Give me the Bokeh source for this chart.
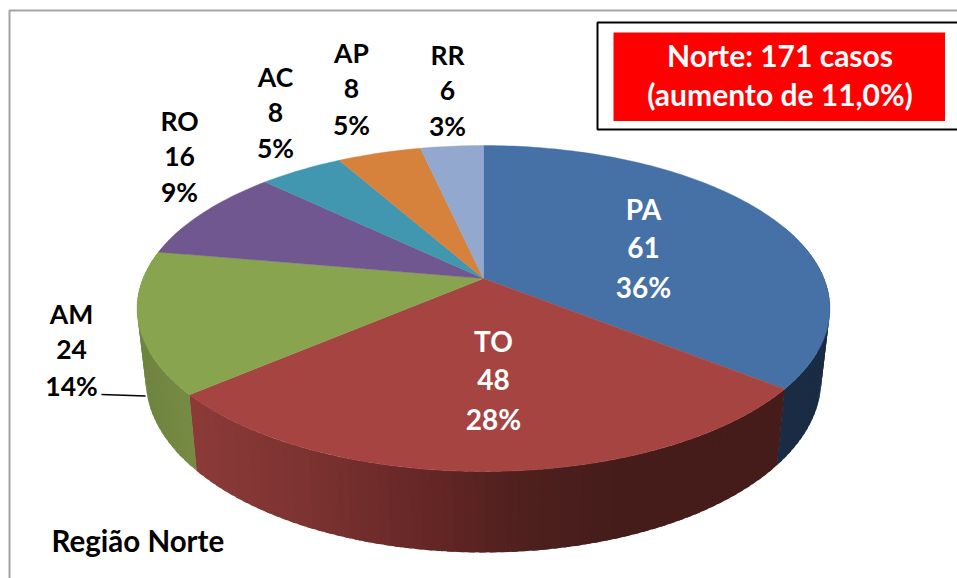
import math
from bokeh.plotting import figure
from bokeh.models import Range1d, ColumnDataSource
from bokeh.core.properties import value
from bokeh.embed import file_html
from bokeh.resources import INLINE

# ---- data -------------------------------------------------------------
states = ["PA", "TO", "AM", "RO", "AC", "AP", "RR"]
cases = [61, 48, 24, 16, 8, 8, 6]
pct_labels = ["36%", "28%", "14%", "9%", "5%", "5%", "3%"]
top_colors = ["#4671A6", "#A64442", "#89A44E", "#71578F", "#4197AF", "#D6823C", "#93A8CF"]
box_lines = ["Norte: 171 casos", "(aumento de 11,0%)"]
region_title = "Região Norte"

# ---- layout (reference pixels) ------------------------------------------
W, H = 957, 578
APEX_X, APEX_Y = 484.0, 279.0
A, B, K = 340.5, 157.5, 0.184      # perspective disc
SX, SY, Y0 = 0.975, 1.06, 348.4    # lower rim of the disc

LABEL_POS = {  # state: (x, first line y, second, third)
    "PA": (644, 209, 248, 287),
    "TO": (494, 341, 380, 419),
    "AM": (72, 314, 350, 386),
    "RO": (180, 121, 157, 192),
    "AC": (276, 77, 113, 148),
    "AP": (352, 53, 89, 125),
    "RR": (448, 55, 91, 126),
}
WHITE_LABELS = {"PA", "TO"}


def rim(theta):
    """Clockwise angle from 12 o'clock -> top-face rim pixel."""
    u, v = math.sin(theta), math.cos(theta)
    d = 1 + K * v
    return APEX_X + A * u / d, APEX_Y - B * v / d


def low(x, y):
    return APEX_X + SX * (x - APEX_X), Y0 + SY * (y - APEX_Y)


def lerp_stops(stops, t):
    for (t0, c0), (t1, c1) in zip(stops, stops[1:]):
        if t <= t1:
            f = 0 if t1 == t0 else (t - t0) / (t1 - t0)
            return "#%02x%02x%02x" % tuple(round(a + (b - a) * f) for a, b in zip(c0, c1))
    return "#%02x%02x%02x" % stops[-1][1]


# side shading, by rim x position
SIDE_STOPS = {
    "PA": [(0, (25, 44, 68)), (1000, (25, 44, 68))],
    "TO": [(180, (141, 59, 57)), (300, (124, 51, 49)), (440, (98, 37, 36)),
           (520, (78, 32, 30)), (620, (69, 28, 26)), (800, (69, 28, 26))],
    "AM": [(130, (108, 131, 62)), (200, (121, 140, 68))],
}

p = figure(width=W, height=H, output_backend="svg", toolbar_location=None,
           x_range=Range1d(1, W + 1), y_range=Range1d(H + 1, 1), min_border=0,
           background_fill_color="white", border_fill_color="white")
p.axis.visible = False
p.grid.visible = False
p.outline_line_color = None

# frame of the slide
p.line([10, 10, W + 5], [H + 5, 11, 11], line_color="#A3A3A3", line_width=2)

# wedge boundaries from the values
total = sum(cases)
angles = [0.0]
for c in cases:
    angles.append(angles[-1] + 2 * math.pi * c / total)

# side walls: overlapping strips, painted in order so no seams show
xs, ys, cols = [], [], []
walls = {"PA": (math.radians(70), angles[1]), "TO": (angles[1], angles[2]),
         "AM": (angles[2], math.radians(290))}
for name, (a0, a1) in walls.items():
    n = max(4, int((a1 - a0) / math.radians(1.5)))
    step = (a1 - a0) / n
    for i in range(n):
        t0 = a0 + step * i
        t1 = t0 + step * 1.6
        if i == n - 1:
            t1 = a1 + step * 0.1
        x0, y0 = rim(t0)
        x1, y1 = rim(t1)
        bx0, by0 = low(x0, y0)
        bx1, by1 = low(x1, y1)
        xs.append([x0, x1, bx1, bx0])
        ys.append([y0, y1, by1, by0])
        cols.append(lerp_stops(SIDE_STOPS[name], (x0 + x1) / 2))
p.patches(xs, ys, fill_color=cols, line_color=None)

# top face
xs, ys = [], []
for a0, a1 in zip(angles, angles[1:]):
    n = max(6, int((a1 - a0) / math.radians(1)))
    pts = [rim(a0 + (a1 - a0) * i / n) for i in range(n + 1)]
    xs.append([APEX_X] + [q[0] for q in pts])
    ys.append([APEX_Y] + [q[1] for q in pts])
p.patches(xs, ys, fill_color=top_colors, line_color=top_colors, line_width=0.4)

# leader line of AM
p.line([102, 146], [395, 396.5], line_color="black", line_width=1.6)

# slice labels
FONT = value("Lato")
tx, ty, tt, tc = [], [], [], []
for s, c, pc in zip(states, cases, pct_labels):
    x, y1, y2, y3 = LABEL_POS[s]
    col = "white" if s in WHITE_LABELS else "black"
    for yy, t in zip((y1, y2, y3), (s, str(c), pc)):
        tx.append(x); ty.append(yy); tt.append(t); tc.append(col)
big = ColumnDataSource(dict(x=[a for a, c in zip(tx, tc) if c == "white"],
                            y=[a for a, c in zip(ty, tc) if c == "white"],
                            t=[a for a, c in zip(tt, tc) if c == "white"]))
small = ColumnDataSource(dict(x=[a for a, c in zip(tx, tc) if c == "black"],
                              y=[a for a, c in zip(ty, tc) if c == "black"],
                              t=[a for a, c in zip(tt, tc) if c == "black"]))
p.text("x", "y", "t", source=big, text_color="white", text_font=FONT, text_font_style="bold",
       text_font_size="28px", text_align="center", text_baseline="middle")
p.text("x", "y", "t", source=small, text_color="black", text_font=FONT, text_font_style="bold",
       text_font_size="26.5px", text_align="center", text_baseline="middle")

# info box
p.quad(left=[598], right=[W + 5], top=[23], bottom=[130], fill_color="white",
       line_color="black", line_width=2)
p.quad(left=[614], right=[945.5], top=[33], bottom=[121.5], fill_color="#FF0000", line_color=None)
p.text([780.5, 780.5], [55, 94], text=box_lines, text_color="white", text_font=FONT,
       text_font_style="bold", text_font_size="30px", text_align="center", text_baseline="middle")

p.text([52], [541], text=[region_title], text_color="black", text_font=FONT,
       text_font_style="bold", text_font_size="29.5px", text_align="left", text_baseline="middle")

open("out.html", "w").write(file_html(p, INLINE))
